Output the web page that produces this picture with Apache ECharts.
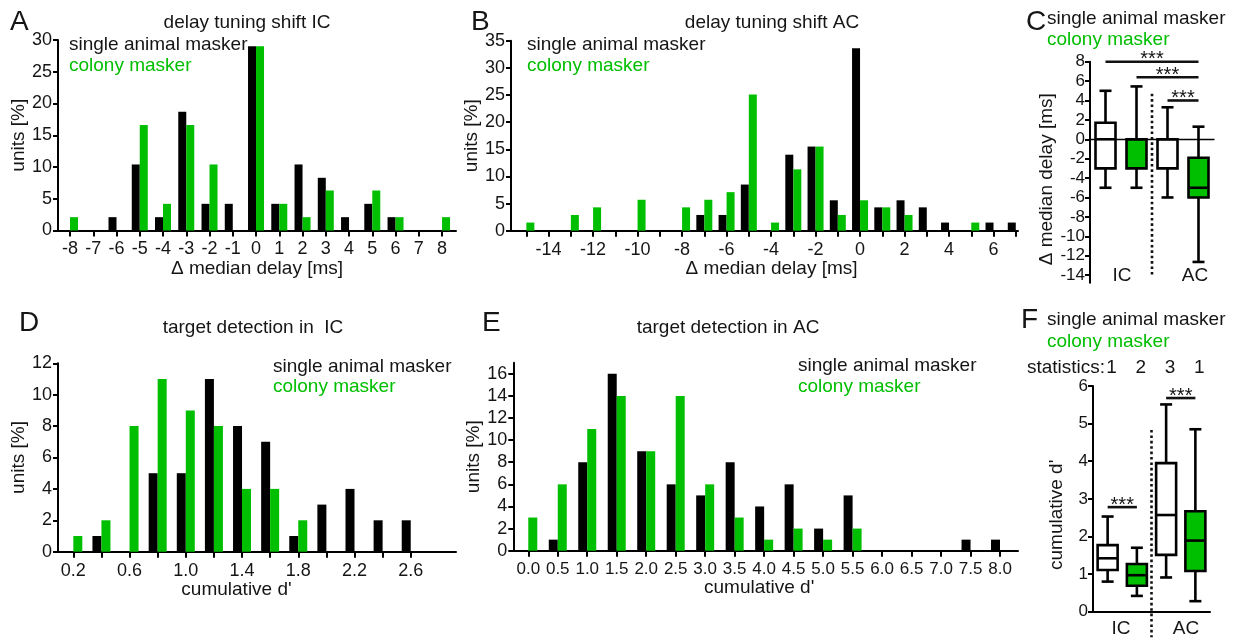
<!DOCTYPE html>
<html><head><meta charset="utf-8">
<script src="https://cdn.jsdelivr.net/npm/echarts@6/dist/echarts.min.js"></script>
<style>html,body{margin:0;padding:0;background:#fff}#c{width:1237px;height:638px}</style>
</head><body><div id="c"></div>
<script>
// ---------------- data ----------------
// A: delay tuning shift IC
const aX = [-8,-7,-6,-5,-4,-3,-2,-1,0,1,2,3,4,5,6,7,8];
const aSingle = [0,0,2.1,10.4,2.1,18.7,4.2,4.2,29.0,4.2,10.4,8.3,2.1,4.2,2.1,0,0];
const aColony = [2.1,0,0,16.6,4.2,16.6,10.4,0,29.0,4.2,2.1,6.3,0,6.3,2.1,0,2.1];
const aXTicks = [-8,-7,-6,-5,-4,-3,-2,-1,0,1,2,3,4,5,6,7,8];
const aXLabels = [-8,-7,-6,-5,-4,-3,-2,-1,0,1,2,3,4,5,6,7,8];
const aYTicks = [0,5,10,15,20,25,30];
// B: delay tuning shift AC
const bX = [-15,-14,-13,-12,-11,-10,-9,-8,-7,-6,-5,-4,-3,-2,-1,0,1,2,3,4,5,6,7];
const bSingle = [0,0,0,0,0,0,0,0,2.9,2.9,8.5,0,14.0,15.5,5.6,33.6,4.3,5.6,4.3,1.5,0,1.5,1.5];
const bColony = [1.5,0,2.9,4.3,0,5.7,0,4.3,5.7,7.1,25.1,1.5,11.3,15.5,2.9,5.6,4.3,2.9,0,0,1.5,0,0];
const bXTicks = [-15,-14,-13,-12,-11,-10,-9,-8,-7,-6,-5,-4,-3,-2,-1,0,1,2,3,4,5,6,7];
const bXLabels = [-14,-12,-10,-8,-6,-4,-2,0,2,4,6];
const bYTicks = [0,5,10,15,20,25,30,35];
// C: boxplots  [min, Q1, median, Q3, max]
const cCats = ['IC single','IC colony','AC single','AC colony'];
const cBoxes = [[-5,-3,0,1.7,5],[-5,-3,0,0,5.45],[-6,-3,0,0,3.3],[-12.65,-6,-5,-1.9,1.3]];
const cYTicks = [8,6,4,2,0,-2,-4,-6,-8,-10,-12,-14];
const cSig = [[0,3,8],[1,3,6.4],[2,3,4]];
// D: target detection in IC
const dX = [0.2,0.4,0.6,0.8,1.0,1.2,1.4,1.6,1.8,2.0,2.2,2.4,2.6];
const dSingle = [0,1,0,5,5,11,8,7,1,3,4,2,2];
const dColony = [1,2,8,11,9,8,4,4,2,0,0,0,0];
const dXTicks = [0.2,0.4,0.6,0.8,1.0,1.2,1.4,1.6,1.8,2.0,2.2,2.4,2.6];
const dXLabels = [0.2,0.6,1.0,1.4,1.8,2.2,2.6];
const dYTicks = [0,2,4,6,8,10,12];
// E: target detection in AC
const eX = [0,0.5,1.0,1.5,2.0,2.5,3.0,3.5,4.0,4.5,5.0,5.5,6.0,6.5,7.0,7.5,8.0];
const eSingle = [0,1,8,16,9,6,5,8,4,6,2,5,0,0,0,1,1];
const eColony = [3,6,11,14,9,14,6,3,1,2,1,2,0,0,0,0,0];
const eXTicks = [0,0.5,1.0,1.5,2.0,2.5,3.0,3.5,4.0,4.5,5.0,5.5,6.0,6.5,7.0,7.5,8.0];
const eXLabels = [0,0.5,1.0,1.5,2.0,2.5,3.0,3.5,4.0,4.5,5.0,5.5,6.0,6.5,7.0,7.5,8.0];
const eYTicks = [0,2,4,6,8,10,12,14,16];
// F: boxplots cumulative d'
const fCats = ['IC single','IC colony','AC single','AC colony'];
const fBoxes = [[0.8,1.11,1.42,1.77,2.53],[0.42,0.69,0.97,1.27,1.70],[0.91,1.51,2.57,3.95,5.51],[0.28,1.08,1.89,2.67,4.85]];
const fYTicks = [0,1,2,3,4,5,6];
const fSig = [[0,1,2.78],[2,3,5.68]];
const fStats = ['1','2','3','1'];

// ---------------- styling ----------------
const FONT = '"Liberation Sans", Arial, Helvetica, sans-serif';
const BLACK = '#000';
const GREEN = '#00be00';
const TXT = '#151515';

const chart = echarts.init(document.getElementById('c'));
const grid = [], xAxis = [], yAxis = [], series = [];

function addHist(o) {
  const gi = grid.length;
  grid.push({left:o.l, top:o.t, width:o.w, height:o.h, containLabel:false, outerBoundsMode:'none'});
  xAxis.push({gridIndex:gi, type:'value', min:o.xmin, max:o.xmax,
    axisLine:{show:true, onZero:false, lineStyle:{color:BLACK, width:2}},
    axisTick:{show:true, customValues:o.xTicks, length:6, lineStyle:{color:BLACK, width:2}},
    axisLabel:{show:true, customValues:o.xLabels, formatter:o.fmt, fontSize:o.xfs, fontFamily:FONT, color:TXT, margin:o.xm},
    splitLine:{show:false},
    name:o.xName, nameLocation:'middle', nameGap:o.xng,
    nameTextStyle:{fontSize:19, fontFamily:FONT, color:TXT, padding:o.xnp || 0}});
  yAxis.push({gridIndex:gi, type:'value', min:0, max:o.ymax,
    axisLine:{show:true, onZero:false, lineStyle:{color:BLACK, width:2}},
    axisTick:{show:true, customValues:o.yTicks, length:5, lineStyle:{color:BLACK, width:2}},
    axisLabel:{show:true, customValues:o.yTicks, fontSize:18, fontFamily:FONT, color:TXT, margin:6},
    splitLine:{show:false},
    name:'units [%]', nameLocation:'middle', nameGap:o.yng,
    nameTextStyle:{fontSize:19, fontFamily:FONT, color:TXT}});
  series.push({type:'bar', name:'single animal masker', xAxisIndex:gi, yAxisIndex:gi,
    data:o.xs.map((x,i)=>[x,o.s1[i]]), barWidth:o.bw, barGap:'0%', itemStyle:{color:BLACK}, silent:true});
  series.push({type:'bar', name:'colony masker', xAxisIndex:gi, yAxisIndex:gi,
    data:o.xs.map((x,i)=>[x,o.s2[i]]), barWidth:o.bw, barGap:'0%', itemStyle:{color:GREEN}, silent:true});
}

// box-and-whisker drawn through the axes' coordinate mapping
function boxRender(params, api) {
  const x = api.value(0);
  const pMin = api.coord([x, api.value(1)]);
  const pQ1 = api.coord([x, api.value(2)]);
  const pMed = api.coord([x, api.value(3)]);
  const pQ3 = api.coord([x, api.value(4)]);
  const pMax = api.coord([x, api.value(5)]);
  const cx = pMin[0], hw = 10, cw = 6;
  const st = {stroke:BLACK, lineWidth:2.6, lineCap:'butt'};
  const fill = params.dataIndex % 2 === 0 ? '#fff' : GREEN;
  return {type:'group', children:[
    {type:'line', shape:{x1:cx, y1:pQ3[1], x2:cx, y2:pMax[1]}, style:st},
    {type:'line', shape:{x1:cx, y1:pQ1[1], x2:cx, y2:pMin[1]}, style:st},
    {type:'line', shape:{x1:cx-cw, y1:pMax[1], x2:cx+cw, y2:pMax[1]}, style:st},
    {type:'line', shape:{x1:cx-cw, y1:pMin[1], x2:cx+cw, y2:pMin[1]}, style:st},
    {type:'rect', shape:{x:cx-hw, y:pQ3[1], width:2*hw, height:pQ1[1]-pQ3[1]}, style:{fill:fill, stroke:BLACK, lineWidth:2.6}},
    {type:'line', shape:{x1:cx-hw, y1:pMed[1], x2:cx+hw, y2:pMed[1]}, style:st}
  ]};
}

function addBox(o) {
  const gi = grid.length;
  grid.push({left:o.l, top:o.t, width:o.w, height:o.h, containLabel:false, outerBoundsMode:'none'});
  xAxis.push({gridIndex:gi, type:'category', data:o.cats, boundaryGap:true,
    axisLine:{show:true, onZero:o.onZero, lineStyle:{color:BLACK, width:o.xlw}},
    axisTick:{show:false}, axisLabel:{show:false}, splitLine:{show:false}});
  yAxis.push({gridIndex:gi, type:'value', min:o.ymin, max:o.ymax,
    axisLine:{show:true, onZero:false, lineStyle:{color:BLACK, width:2}},
    axisTick:{show:true, customValues:o.yTicks, length:5, lineStyle:{color:BLACK, width:2}},
    axisLabel:{show:true, customValues:o.yTicks, fontSize:17, fontFamily:FONT, color:TXT, margin:5},
    splitLine:{show:false},
    name:o.yName, nameLocation:'middle', nameGap:o.yng,
    nameTextStyle:{fontSize:19, fontFamily:FONT, color:TXT, padding:o.ynp || 0}});
  series.push({type:'custom', xAxisIndex:gi, yAxisIndex:gi, silent:true, renderItem:boxRender,
    encode:{x:0, y:[1,2,3,4,5]},
    data:o.boxes.map((b,i)=>[i].concat(b))});
}

const fmt1 = v => Number(v).toFixed(1);
const fmt0 = v => String(Math.round(v));

addHist({l:58, t:40, w:398, h:190.5, xmin:-8.516, xmax:8.6, ymax:30, xTicks:aXTicks, xLabels:aXLabels, yTicks:aYTicks,
  fmt:fmt0, xfs:18, xm:10, xName:'Δ median delay [ms]', xng:26, yng:24, xs:aX, s1:aSingle, s2:aColony, bw:8});
addHist({l:511, t:40.7, w:507, h:190, xmin:-15.69, xmax:7.1, ymax:35, xTicks:bXTicks, xLabels:bXLabels, yTicks:bYTicks,
  fmt:fmt0, xfs:18, xm:10, xName:'Δ median delay [ms]', xng:26, xnp:[0,0,0,14], yng:24, xs:bX, s1:bSingle, s2:bColony, bw:8});
addHist({l:58, t:363.3, w:398, h:188.4, xmin:0.091, xmax:2.922, ymax:12, xTicks:dXTicks, xLabels:dXLabels, yTicks:dYTicks,
  fmt:fmt1, xfs:18, xm:10, xName:"cumulative d'", xng:25, xnp:[0,41,0,0], yng:25, xs:dX, s1:dSingle, s2:dColony, bw:9});
addHist({l:513.3, t:362.7, w:504.7, h:188, xmin:-0.254, xmax:8.305, ymax:17, xTicks:eXTicks, xLabels:eXLabels, yTicks:eYTicks,
  fmt:fmt1, xfs:17, xm:10, xName:"cumulative d'", xng:25, xnp:[0,13,0,0], yng:25, xs:eX, s1:eSingle, s2:eColony, bw:9});
addBox({l:1090, t:61.7, w:124, h:221.1, ymin:-14.8, ymax:8, yTicks:cYTicks, cats:cCats, boxes:cBoxes,
  onZero:true, xlw:1.3, yName:'Δ median delay [ms]', yng:34, ynp:[0,14,0,0]});
addBox({l:1093, t:386, w:117, h:225.7, ymin:0, ymax:6, yTicks:fYTicks, cats:fCats, boxes:fBoxes,
  onZero:false, xlw:2, yName:"cumulative d'", yng:27, ynp:[0,32,0,0]});

chart.setOption({animation:false, backgroundColor:'#fff', grid, xAxis, yAxis, series});

// ---------------- texts ----------------
const g = [];
function txt(x, y, text, o) {
  o = o || {};
  g.push({type:'text', x:x, y:y, rotation:o.rot || 0, silent:true,
    style:{text:text, fill:o.color || TXT, fontSize:o.size || 19, fontFamily:FONT,
      textAlign:o.align || 'left', align:o.align || 'left', textVerticalAlign:'middle', verticalAlign:'middle'}});
}
// panel letters
[['A',10,22],['B',471,22],['C',1026,22],['D',19,323],['E',482,323],['F',1021,320]].forEach(p=>txt(p[1],p[2],p[0],{size:28}));
// titles
txt(247, 23, 'delay tuning shift IC', {align:'center'});
txt(772, 23, 'delay tuning shift AC', {align:'center'});
txt(253, 328, 'target detection in  IC', {align:'center'});
txt(728, 328, 'target detection in AC', {align:'center'});
// legends
[[69,45,66],[527,45,66],[1047,19,40],[273,367,387],[798,366,387],[1047,320,342]].forEach(p=>{
  txt(p[0], p[1], 'single animal masker');
  txt(p[0], p[2], 'colony masker', {color:GREEN});
});
// region labels
txt(1122, 276, 'IC', {align:'center'});
txt(1195, 276, 'AC', {align:'center'});
txt(1121, 629, 'IC', {align:'center'});
txt(1186, 629, 'AC', {align:'center'});
txt(1027, 368, 'statistics:');

// annotations placed through the axes' own scales
function px(gi, xv, yv) { return chart.convertToPixel({xAxisIndex:gi, yAxisIndex:gi}, [xv, yv]); }
function dotted(gi, yTop, yBot) {
  const a = px(gi, 1, yTop), b = px(gi, 2, yBot);
  const xm = (a[0] + b[0]) / 2;
  g.push({type:'line', silent:true, shape:{x1:xm, y1:a[1], x2:xm, y2:b[1]},
    style:{stroke:'#111', lineWidth:2.6, lineDash:[2.6,2.8]}});
}
dotted(4, 4.7, -14.2);
dotted(5, 4.83, -0.68);
function sigBars(gi, sig) {
  sig.forEach(s=>{
    const a = px(gi, s[0], s[2]), b = px(gi, s[1], s[2]);
    g.push({type:'line', silent:true, shape:{x1:a[0], y1:a[1], x2:b[0], y2:b[1]},
      style:{stroke:'#111', lineWidth:2.6}});
    txt((a[0]+b[0])/2, a[1]-2, '***', {align:'center', size:20});
  });
}
sigBars(4, cSig);
sigBars(5, fSig);
fStats.forEach((s,i)=>{ const p = px(5, i, 0); txt(p[0]+4, 368, s, {align:'center'}); });

chart.setOption({graphic:{elements:g}});
</script></body></html>
